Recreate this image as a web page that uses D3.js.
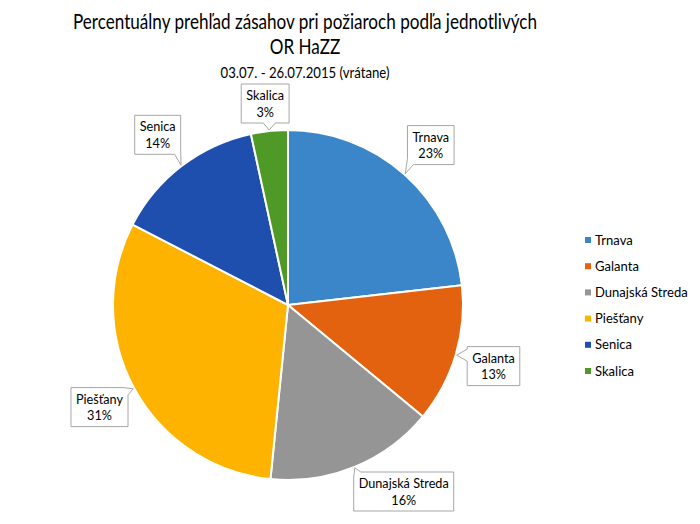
<!DOCTYPE html>
<html>
<head>
<meta charset="utf-8">
<script src="https://cdn.jsdelivr.net/npm/d3@7"></script>
<style>
  html, body { margin: 0; padding: 0; background: #ffffff; }
  svg { display: block; }
  text { font-family: Lato, "Open Sans", sans-serif; fill: #000; }
</style>
</head>
<body>
<svg id="chart" width="700" height="524"></svg>
<script>
// ---- data ----
const categories = ["Trnava", "Galanta", "Dunajská Streda", "Piešťany", "Senica", "Skalica"];
const shares = [23.2, 12.8, 15.6, 31.0, 14.0, 3.4];
const percentLabels = ["23%", "13%", "16%", "31%", "14%", "3%"];
const colors = ["#3a86c9", "#e2620f", "#959595", "#feb300", "#1f4fae", "#4f9a26"];
const titleLines = ["Percentuálny prehľad zásahov pri požiaroch podľa jednotlivých", "OR HaZZ"];
const subtitle = "03.07. - 26.07.2015 (vrátane)";

const svg = d3.select("#chart");

function measure(text, size) {
  const t = svg.append("text").attr("font-size", size).text(text);
  const w = t.node().getComputedTextLength();
  t.remove();
  return w;
}

// narrow-font emulation: compress glyphs horizontally by a common factor
const titleSize = 20.5, subSize = 15, labelSize = 13.5;
const titleK = 464 / measure(titleLines[0], titleSize);
const subK = 169 / measure(subtitle, subSize);
const labelK = 90 / measure("Dunajská Streda", labelSize);

function addText(sel, text, x, y, size, k, anchor) {
  const w = measure(text, size) * k;
  return sel.append("text").attr("x", x).attr("y", y).attr("text-anchor", anchor || "middle")
    .attr("font-size", size).attr("textLength", w).attr("lengthAdjust", "spacingAndGlyphs")
    .text(text);
}

// ---- titles ----
addText(svg, titleLines[0], 305, 29, titleSize, titleK);
addText(svg, titleLines[1], 305, 54, titleSize, titleK);
addText(svg, subtitle, 305, 78, subSize, subK);

// ---- pie ----
const cx = 288, cy = 305, R = 175;
const pie = d3.pie().sort(null).value(d => d)(shares);
const arc = d3.arc().innerRadius(0).outerRadius(R);
const g = svg.append("g").attr("transform", `translate(${cx},${cy})`);
g.selectAll("path.slice").data(pie).join("path")
  .attr("class", "slice")
  .attr("d", arc)
  .attr("fill", (d, i) => colors[i])
  .attr("stroke", "#ffffff")
  .attr("stroke-width", 2)
  .attr("stroke-linejoin", "round");

// ---- callout labels ----
const boxH = 39, pad = 5, labelR = R * 1.225;
const yMin = 84, yMax = 511;

function calloutPath(x0, y0, w, h, tip, half) {
  const x1 = x0 + w, y1 = y0 + h;
  const L = 2 * w + 2 * h;
  const corners = [[0, [x0, y0]], [w, [x1, y0]], [w + h, [x1, y1]], [2 * w + h, [x0, y1]]];
  function ptAt(s) {
    s = ((s % L) + L) % L;
    if (s <= w) return [x0 + s, y0];
    if (s <= w + h) return [x1, y0 + (s - w)];
    if (s <= 2 * w + h) return [x1 - (s - w - h), y1];
    return [x0, y1 - (s - 2 * w - h)];
  }
  const px = Math.max(x0, Math.min(x1, tip[0]));
  const py = Math.max(y0, Math.min(y1, tip[1]));
  let sP;
  if (py === y0) sP = px - x0;
  else if (px === x1) sP = w + (py - y0);
  else if (py === y1) sP = w + h + (x1 - px);
  else sP = 2 * w + h + (y1 - py);
  const sStart = sP + half, sEnd = sP - half + L;
  const pts = [ptAt(sStart)];
  const cs = [];
  corners.forEach(([s, p]) => {
    [s, s + L, s + 2 * L].forEach(ss => { if (ss > sStart && ss < sEnd) cs.push([ss, p]); });
  });
  cs.sort((a, b) => a[0] - b[0]).forEach(c => pts.push(c[1]));
  pts.push(ptAt(sEnd));
  pts.push(tip);
  return "M" + pts.map(p => p[0].toFixed(2) + "," + p[1].toFixed(2)).join("L") + "Z";
}

const labels = svg.append("g");
pie.forEach((d, i) => {
  const a = (d.startAngle + d.endAngle) / 2;
  const tip = [cx + Math.sin(a) * (R + 1), cy - Math.cos(a) * (R + 1)];
  let lx = cx + Math.sin(a) * labelR;
  let ly = cy - Math.cos(a) * labelR;
  const tw = Math.max(measure(categories[i], labelSize), measure(percentLabels[i], labelSize)) * labelK;
  const bw = tw + 2 * pad;
  const clampedY = Math.max(yMin + boxH / 2, Math.min(yMax - boxH / 2, ly));
  if (clampedY !== ly) {
    const dx = lx - cx;
    if (Math.abs(dx) > 40) {
      const ddy = clampedY - cy;
      lx = cx + Math.sign(dx) * Math.sqrt(Math.max(0, labelR * labelR - ddy * ddy)) + 10;
    }
    ly = clampedY;
  }
  const x0 = lx - bw / 2, y0 = ly - boxH / 2;
  labels.append("path")
    .attr("d", calloutPath(x0, y0, bw, boxH, tip, 6))
    .attr("fill", "#ffffff")
    .attr("stroke", "#a6a6a6")
    .attr("stroke-width", 1);
  addText(labels, categories[i], lx, ly - 3.5, labelSize, labelK);
  addText(labels, percentLabels[i], lx, ly + 13, labelSize, labelK);
});

// ---- legend ----
const legendY = d3.scalePoint().domain(categories).range([240, 371]);
const legend = svg.append("g");
categories.forEach((c, i) => {
  const y = legendY(c);
  legend.append("rect").attr("x", 585).attr("y", y - 3).attr("width", 6).attr("height", 6)
    .attr("fill", colors[i]);
  addText(legend, c, 595, y + 4.5, labelSize, labelK * 1.03, "start");
});
</script>
</body>
</html>
